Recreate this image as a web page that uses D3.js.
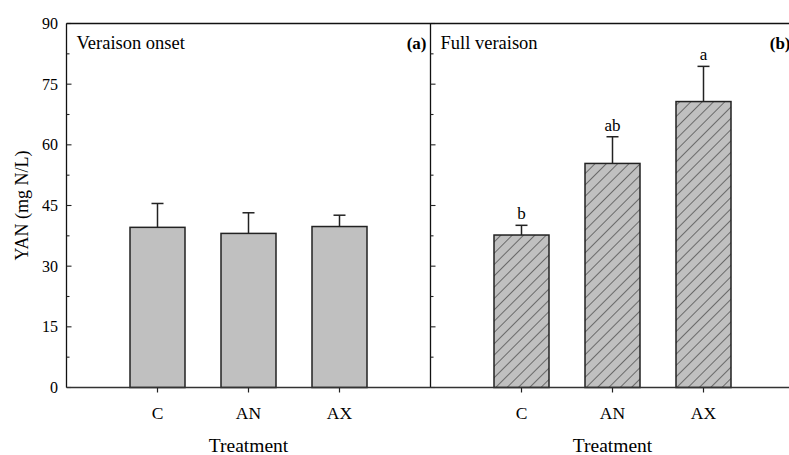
<!DOCTYPE html>
<html><head><meta charset="utf-8">
<script src="https://cdn.jsdelivr.net/npm/d3@7"></script>
<style>body{margin:0;background:#fff}svg{display:block}</style>
</head><body>
<svg id="c" width="789" height="455"></svg>
<script>
const categories = ["C", "AN", "AX"];
const onsetMeans = [39.6, 38.1, 39.8];
const onsetErr = [5.9, 5.1, 2.8];
const fullMeans = [37.7, 55.4, 70.7];
const fullErr = [2.4, 6.6, 8.7];
const fullLetters = ["b", "ab", "a"];
const yTicks = [0, 15, 30, 45, 60, 75, 90];
const yMinor = [7.5, 22.5, 37.5, 52.5, 67.5, 82.5];
const panelTitles = ["Veraison onset", "Full veraison"];
const panelTags = ["(a)", "(b)"];

const FONT = "'Liberation Serif', serif";
const svg = d3.select("#c");
const plotTop = 23.5, plotBottom = 387.5, plotLeft = 66.5, pw = 364;
const y = d3.scaleLinear().domain([0, 90]).range([plotBottom, plotTop]);

const defs = svg.append("defs");
const pat = defs.append("pattern").attr("id", "hatch").attr("patternUnits", "userSpaceOnUse")
  .attr("width", 8).attr("height", 8).attr("patternTransform", "rotate(45)");
pat.append("rect").attr("width", 8).attr("height", 8).attr("fill", "#c0c0c0");
pat.append("line").attr("x1", 0).attr("y1", 0).attr("x2", 0).attr("y2", 8)
  .attr("stroke", "#222").attr("stroke-width", 1.1);

const panels = [
  {means: onsetMeans, err: onsetErr, letters: null, fill: "#c0c0c0"},
  {means: fullMeans, err: fullErr, letters: fullLetters, fill: "url(#hatch)"}
];

panels.forEach((p, i) => {
  const x0 = plotLeft + i * pw;
  const x = d3.scaleLinear().domain([0, 4]).range([x0, x0 + pw]);
  const g = svg.append("g");
  const bw = 55;
  categories.forEach((c, j) => {
    const cx = x(j + 1);
    const yt = y(p.means[j]), ye = y(p.means[j] + p.err[j]);
    g.append("line").attr("x1", cx).attr("x2", cx).attr("y1", yt).attr("y2", ye)
      .attr("stroke", "#222").attr("stroke-width", 1.5);
    g.append("line").attr("x1", cx - 6).attr("x2", cx + 6).attr("y1", ye).attr("y2", ye)
      .attr("stroke", "#222").attr("stroke-width", 1.5);
    g.append("rect").attr("x", cx - bw / 2).attr("y", yt).attr("width", bw)
      .attr("height", y(0) - yt).attr("fill", p.fill).attr("stroke", "#222").attr("stroke-width", 1.5);
    if (p.letters) {
      g.append("text").attr("x", cx).attr("y", ye - 6).attr("text-anchor", "middle")
        .attr("font-family", FONT).attr("font-size", 17).text(p.letters[j]);
    }
    g.append("line").attr("x1", cx).attr("x2", cx).attr("y1", plotBottom).attr("y2", plotBottom + 5)
      .attr("stroke", "#222").attr("stroke-width", 1.2);
    g.append("text").attr("x", cx).attr("y", 419).attr("text-anchor", "middle")
      .attr("font-family", FONT).attr("font-size", 17.5).text(c);
  });
  g.append("line").attr("x1", x0).attr("x2", x0).attr("y1", plotTop).attr("y2", plotBottom)
    .attr("stroke", "#111").attr("stroke-width", 1.3);
  yTicks.forEach(t => g.append("line").attr("x1", x0).attr("x2", x0 + 5).attr("y1", y(t)).attr("y2", y(t))
    .attr("stroke", "#222").attr("stroke-width", 1.1));
  yMinor.forEach(t => g.append("line").attr("x1", x0).attr("x2", x0 + 3).attr("y1", y(t)).attr("y2", y(t))
    .attr("stroke", "#222").attr("stroke-width", 1.1));
  g.append("text").attr("x", x0 + 10).attr("y", 49).attr("font-family", FONT).attr("font-size", 18.5)
    .text(panelTitles[i]);
  g.append("text").attr("x", x0 + pw - 4).attr("y", 49).attr("text-anchor", "end").attr("font-family", FONT)
    .attr("font-size", 17).attr("font-weight", "bold").text(panelTags[i]);
  g.append("text").attr("x", x(2)).attr("y", 452).attr("text-anchor", "middle")
    .attr("font-family", FONT).attr("font-size", 19.5).text("Treatment");
});

svg.append("line").attr("x1", plotLeft).attr("x2", 789).attr("y1", plotTop).attr("y2", plotTop)
  .attr("stroke", "#111").attr("stroke-width", 1.3);
svg.append("line").attr("x1", plotLeft).attr("x2", 789).attr("y1", plotBottom).attr("y2", plotBottom)
  .attr("stroke", "#333").attr("stroke-width", 1.3);

svg.append("g").selectAll("text").data(yTicks).join("text")
  .attr("x", 58).attr("y", d => y(d)).attr("dy", "0.35em").attr("text-anchor", "end")
  .attr("font-family", FONT).attr("font-size", 16).text(d => d);

svg.append("text").attr("transform", `translate(28,${(plotTop + plotBottom) / 2}) rotate(-90)`)
  .attr("text-anchor", "middle").attr("font-family", FONT).attr("font-size", 18).text("YAN (mg N/L)");
</script>
</body></html>
